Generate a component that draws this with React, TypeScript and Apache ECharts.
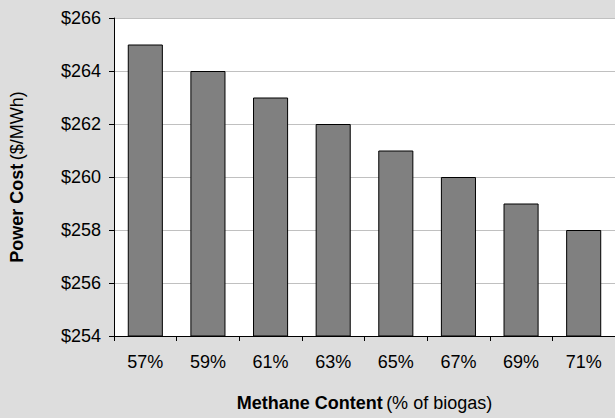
import React, { useEffect, useRef } from "react";
import * as echarts from "echarts";

const categories = ["57%", "59%", "61%", "63%", "65%", "67%", "69%", "71%"];
const powerCost = [265, 264, 263, 262, 261, 260, 259, 258];
const yMin = 254;
const yMax = 266;
const yStep = 2;

export default function App() {
  const ref = useRef<HTMLDivElement>(null);
  useEffect(() => {
    const chart = echarts.init(ref.current!, null, { renderer: "svg" });
    const font = "Liberation Sans, Arial, sans-serif";
    chart.setOption({
      animation: false,
      backgroundColor: "#dddddd",
      textStyle: { fontFamily: font },
      grid: { left: 114, right: 0, top: 18, bottom: 82, show: true, backgroundColor: "#ffffff", borderWidth: 0 },
      xAxis: {
        type: "category",
        data: categories,
        axisLine: { lineStyle: { color: "#000", width: 1 } },
        axisTick: { show: true, length: 5, lineStyle: { color: "#000" } },
        axisLabel: { color: "#000", fontSize: 18, margin: 17, fontFamily: font },
        name: "{b|Methane Content} {r|(% of biogas)}",
        nameLocation: "middle",
        nameGap: 58,
        nameTextStyle: {
          rich: {
            b: { fontWeight: "bold", fontSize: 18, color: "#000", fontFamily: font },
            r: { fontSize: 18, color: "#000", fontFamily: font },
          },
        },
      },
      yAxis: {
        type: "value",
        min: yMin,
        max: yMax,
        interval: yStep,
        axisLine: { show: true, lineStyle: { color: "#000", width: 1 } },
        axisTick: { show: true, length: 5, lineStyle: { color: "#000" } },
        axisLabel: { color: "#000", fontSize: 18, margin: 13, fontFamily: font, formatter: (v: number) => "$" + v },
        splitLine: { show: true, lineStyle: { color: "#c0c0c0", width: 1 } },
        name: "{b|Power Cost} {r|($/MWh)}",
        nameLocation: "middle",
        nameGap: 88,
        nameRotate: 90,
        nameTextStyle: {
          rich: {
            b: { fontWeight: "bold", fontSize: 18, color: "#000", fontFamily: font },
            r: { fontSize: 18, color: "#000", fontFamily: font },
          },
        },
      },
      series: [
        {
          type: "bar",
          data: powerCost,
          barCategoryGap: "44%",
          itemStyle: { color: "#808080", borderColor: "#000", borderWidth: 1 },
        },
      ],
    });
    return () => chart.dispose();
  }, []);
  return <div ref={ref} style={{ width: 615, height: 418, position: "absolute", left: 0, top: 0 }} />;
}
